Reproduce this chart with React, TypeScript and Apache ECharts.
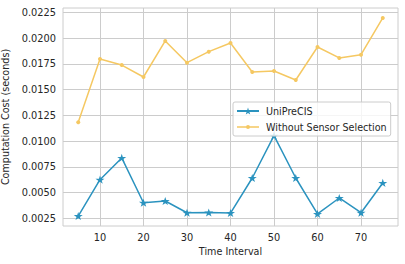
import React, { useEffect, useRef } from "react";
import * as echarts from "echarts";

const timeIntervals = [5, 10, 15, 20, 25, 30, 35, 40, 45, 50, 55, 60, 65, 70, 75];
const uniPreCIS = [0.00272, 0.00625, 0.00836, 0.00401, 0.00418, 0.00304, 0.00306, 0.00301, 0.00641, 0.01052, 0.00641, 0.00292, 0.00447, 0.00304, 0.00593];
const withoutSelection = [0.01182, 0.01797, 0.01738, 0.01622, 0.01972, 0.01761, 0.01868, 0.01952, 0.01671, 0.0168, 0.01593, 0.01913, 0.01807, 0.01839, 0.02195];
const xTicks = [10, 20, 30, 40, 50, 60, 70];
const yTicks = [0.0025, 0.005, 0.0075, 0.01, 0.0125, 0.015, 0.0175, 0.02, 0.0225];

const STAR =
  "path://M100,0 L122.45,69.1 L195.1,69.1 L136.33,111.8 L158.78,180.9 L100,138.2 L41.22,180.9 L63.67,111.8 L4.9,69.1 L77.55,69.1 Z";
const DOT_LINE_ICON =
  "path://M0,0 L0.01,0 Z M22,9 L21.99,9 Z M0,3.75 L22,3.75 L22,5.25 L0,5.25 Z M13,4.5 A2,2 0 1 1 9,4.5 A2,2 0 1 1 13,4.5 Z";

const FONT = "DejaVu Sans";
const TEXT = "#262626";
const GRID = "#cccccc";
const BLUE = "#2b93bf";
const YELLOW = "#f5c862";

export default function App() {
  const ref = useRef<HTMLDivElement>(null);
  useEffect(() => {
    if (!ref.current) return;
    const chart = echarts.init(ref.current, undefined, { renderer: "svg" });
    chart.setOption({
      animation: false,
      backgroundColor: "#ffffff",
      textStyle: { fontFamily: FONT },
      grid: {
        left: 63,
        right: 7,
        top: 8,
        bottom: 38,
        show: true,
        borderColor: GRID,
        borderWidth: 1,
        containLabel: false,
        outerBoundsMode: "none",
      },
      legend: {
        orient: "vertical",
        left: 233,
        top: 102,
        itemWidth: 22,
        itemHeight: 9,
        itemGap: 6,
        padding: [4, 4, 4, 3],
        backgroundColor: "rgba(255,255,255,0.8)",
        borderColor: GRID,
        borderWidth: 1,
        borderRadius: 2,
        textStyle: { fontFamily: FONT, fontSize: 9.6, color: TEXT, padding: [0, 0, 0, 2] },
        data: [
          { name: "UniPreCIS" },
          { name: "Without Sensor Selection", icon: DOT_LINE_ICON },
        ],
      },
      xAxis: {
        type: "value",
        min: 1.5,
        max: 78.5,
        name: "Time Interval",
        nameLocation: "middle",
        nameGap: 20,
        nameTextStyle: { fontFamily: FONT, fontSize: 9.6, color: TEXT },
        axisLine: { show: false },
        axisTick: { show: false, customValues: xTicks },
        axisLabel: {
          customValues: xTicks,
          margin: 6,
          fontFamily: FONT,
          fontSize: 9.8,
          color: TEXT,
        },
        splitLine: { show: true, lineStyle: { color: GRID, width: 1 } },
      },
      yAxis: {
        type: "value",
        min: 0.00175,
        max: 0.02292,
        name: "Computation Cost (seconds)",
        nameLocation: "middle",
        nameGap: 42,
        nameTextStyle: { fontFamily: FONT, fontSize: 9.6, color: TEXT },
        axisLine: { show: false },
        axisTick: { show: false, customValues: yTicks },
        axisLabel: {
          customValues: yTicks,
          margin: 7,
          fontFamily: FONT,
          fontSize: 9.8,
          color: TEXT,
          formatter: (v: number) => v.toFixed(4),
        },
        splitLine: { show: true, lineStyle: { color: GRID, width: 1 } },
      },
      series: [
        {
          name: "UniPreCIS",
          type: "line",
          data: timeIntervals.map((x, i) => [x, uniPreCIS[i]]),
          color: BLUE,
          lineStyle: { width: 1.5 },
          symbol: STAR,
          symbolSize: [9, 8.6],
          symbolKeepAspect: true,
          itemStyle: { color: BLUE },
          z: 3,
        },
        {
          name: "Without Sensor Selection",
          type: "line",
          data: timeIntervals.map((x, i) => [x, withoutSelection[i]]),
          color: YELLOW,
          lineStyle: { width: 1.5 },
          symbol: "circle",
          symbolSize: 4,
          itemStyle: { color: YELLOW },
          z: 2,
        },
      ],
    });
    return () => chart.dispose();
  }, []);
  return (
    <div
      ref={ref}
      style={{ position: "fixed", left: 0, top: 0, width: 405, height: 264 }}
    />
  );
}
